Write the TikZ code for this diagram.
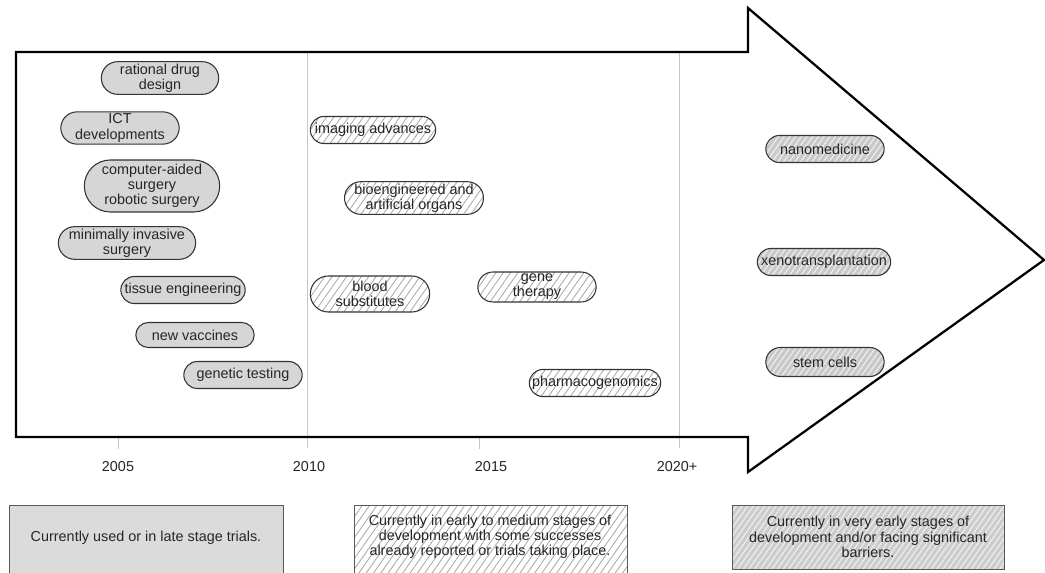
\documentclass[tikz,border=0pt]{standalone}
\usepackage{fontspec}
\setmainfont{Liberation Sans}
\usetikzlibrary{shapes.misc,patterns.meta}
\newcommand{\pxu}{0.75pt}
\tikzset{
  lbl/.style={font=\fontsize{10.8pt}{11.4pt}\selectfont, text=black!85},
  pill/.style={lbl, rounded rectangle, draw=black!80, line width=0.8pt, align=center,
    inner xsep=1pt, inner ysep=1.5pt, minimum height=27*\pxu},
  catA/.style={pill, fill=gray!32},
  catB/.style={pill, pattern={Lines[angle=55,distance=4.5pt,line width=0.6pt]}, pattern color=gray!70},
  catC/.style={pill, preaction={fill=gray!42}, pattern={Lines[angle=55,distance=3.5pt,line width=0.8pt]}, pattern color=gray!12},
  legA/.style={draw=black!65, line width=0.7pt, fill=gray!28},
  legB/.style={draw=black!65, line width=0.7pt, pattern={Lines[angle=55,distance=4.5pt,line width=0.6pt]}, pattern color=gray!70},
  legC/.style={draw=black!65, line width=0.7pt, preaction={fill=gray!40}, pattern={Lines[angle=55,distance=3.5pt,line width=0.8pt]}, pattern color=gray!12},
  grid/.style={draw=gray!45, line width=0.6pt},
  year/.style={lbl, anchor=center},
  arrowline/.style={draw=black, line width=1.7pt, line join=miter}
}
\begin{document}
\begin{tikzpicture}[x=0.75pt, y=-0.75pt]
\useasboundingbox (0,0) rectangle (1045,573);
\fill[white] (0,0) rectangle (1045,573);

% grid lines and ticks
\coordinate (g1t) at (307,52);
\coordinate (g1b) at (307,448);
\coordinate (g2t) at (679,52);
\coordinate (g2b) at (679,448);
\draw[grid] (g1t) -- (g1b);
\draw[grid] (g2t) -- (g2b);
\coordinate (t1a) at (118,437);
\coordinate (t1b) at (118,449);
\coordinate (t3a) at (479,437);
\coordinate (t3b) at (479,449);
\draw[grid] (t1a) -- (t1b);
\draw[grid] (t3a) -- (t3b);

% big arrow
\coordinate (a1) at (16,52);
\coordinate (a2) at (748,52);
\coordinate (a3) at (748,8);
\coordinate (a4) at (1044,260);
\coordinate (a5) at (748,472);
\coordinate (a6) at (748,437);
\coordinate (a7) at (16,437);
\draw[arrowline] (a1) -- (a2) -- (a3) -- (a4) -- (a5) -- (a6) -- (a7) -- cycle;

% years
\node[year] (y2005) at (118,467) {2005};
\node[year] (y2010) at (309,467) {2010};
\node[year] (y2015) at (491,467) {2015};
\node[year] (y2020) at (677,467) {2020+};

% category A
\node[catA, minimum width=120*\pxu] (rdd) at (160,78) {rational drug\\design};
\node[catA, minimum width=121*\pxu] (ict) at (120,128) {ICT\\developments};
\node[catA, minimum width=138*\pxu, minimum height=52*\pxu] (cas) at (152,186) {computer-aided\\surgery\\robotic surgery};
\node[catA, minimum width=140*\pxu] (mis) at (127,243) {minimally invasive\\surgery};
\node[catA, minimum width=127*\pxu] (tis) at (183,290) {tissue engineering};
\node[catA, minimum width=121*\pxu, minimum height=25*\pxu] (vac) at (195,335) {new vaccines};
\node[catA, minimum width=121*\pxu] (gen) at (243,375) {genetic testing};

% category B
\node[catB, minimum width=128*\pxu] (img) at (373,130) {imaging advances};
\node[catB, minimum width=136*\pxu] (bio) at (414,198) {bioengineered and\\artificial organs};
\node[catB, minimum width=122*\pxu, minimum height=36*\pxu] (blood) at (370,294) {blood\\substitutes};
\node[catB, minimum width=121*\pxu] (gene) at (537,287) {gene\\therapy};
\node[catB, minimum width=134*\pxu] (pharm) at (595,383) {pharmacogenomics};

% category C
\node[catC, minimum width=121*\pxu] (nano) at (825,149) {nanomedicine};
\node[catC, minimum width=136*\pxu] (xeno) at (824,262) {xenotransplantation};
\node[catC, minimum width=121*\pxu, minimum height=29*\pxu] (stem) at (825,362) {stem cells};

% legend
\coordinate (l1a) at (9,505);
\coordinate (l1b) at (283,576);
\coordinate (l2a) at (354,505);
\coordinate (l2b) at (627,576);
\coordinate (l3a) at (732,505);
\coordinate (l3b) at (1004,569);
\draw[legA] (l1a) rectangle (l1b);
\draw[legB] (l2a) rectangle (l2b);
\draw[legC] (l3a) rectangle (l3b);
\node[lbl, align=center] (leg1) at (146,538) {Currently used or in late stage trials.};
\node[lbl, align=center] (leg2) at (490,537) {Currently in early to medium stages of\\development with some successes\\already reported or trials taking place.};
\node[lbl, align=center] (leg3) at (868,537) {Currently in very early stages of\\development and/or facing significant\\barriers.};
\end{tikzpicture}
\end{document}
